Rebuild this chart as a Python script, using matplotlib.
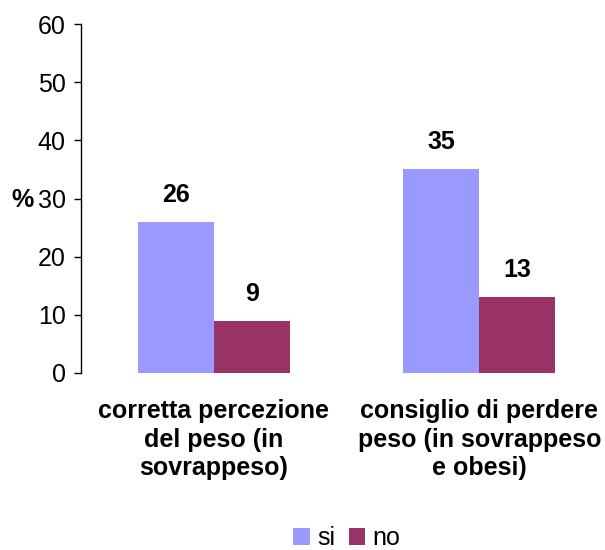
import matplotlib
matplotlib.use("Agg")
import matplotlib.pyplot as plt
import numpy as np

categories = ["corretta percezione\ndel peso (in\nsovrappeso)",
              "consiglio di perdere\npeso (in sovrappeso\ne obesi)"]
si_values = [26, 35]
no_values = [9, 13]
series_names = ["si", "no"]
y_ticks = [0, 10, 20, 30, 40, 50, 60]

plt.rcParams['font.family'] = ['Liberation Sans', 'DejaVu Sans']
FS = 18

fig = plt.figure(figsize=(6.05, 5.5), dpi=100)
ax = fig.add_axes([81/605, 1-373/550, 531/605, (373-24)/550])

x = np.arange(len(categories))
w = 0.287
b1 = ax.bar(x - w/2, si_values, w, color="#9999FF", label=series_names[0])
b2 = ax.bar(x + w/2, no_values, w, color="#993366", label=series_names[1])

for bars, vals in ((b1, si_values), (b2, no_values)):
    for r, v in zip(bars, vals):
        ax.annotate(str(v), (r.get_x() + r.get_width()/2, v),
                    xytext=(0, 19.5), textcoords="offset points",
                    ha="center", va="center", fontsize=FS, fontweight="bold")

ax.set_xlim(-0.5, 1.5)
ax.set_ylim(0, 60)
ax.set_yticks(y_ticks)
ax.tick_params(axis="y", labelsize=FS, length=5, width=1, pad=6, direction="out")
ax.set_xticks(x)
ax.set_xticklabels(categories, fontsize=FS, fontweight="bold", linespacing=1.22)
ax.tick_params(axis="x", length=0, pad=19)
for s in ("top", "right", "bottom"):
    ax.spines[s].set_visible(False)
ax.spines["left"].set_linewidth(1)

fig.text(22/605, 1-200/550, "%", fontsize=FS, fontweight="bold", ha="center", va="center")

fig.legend(handles=[b1, b2], labels=series_names, loc="center",
           bbox_to_anchor=(347/605, 1-538/550), ncol=2, frameon=False,
           fontsize=FS, handlelength=0.65, handleheight=0.65, handletextpad=0.3,
           columnspacing=0.55, borderpad=0)

fig.savefig("out.png", dpi=100)
